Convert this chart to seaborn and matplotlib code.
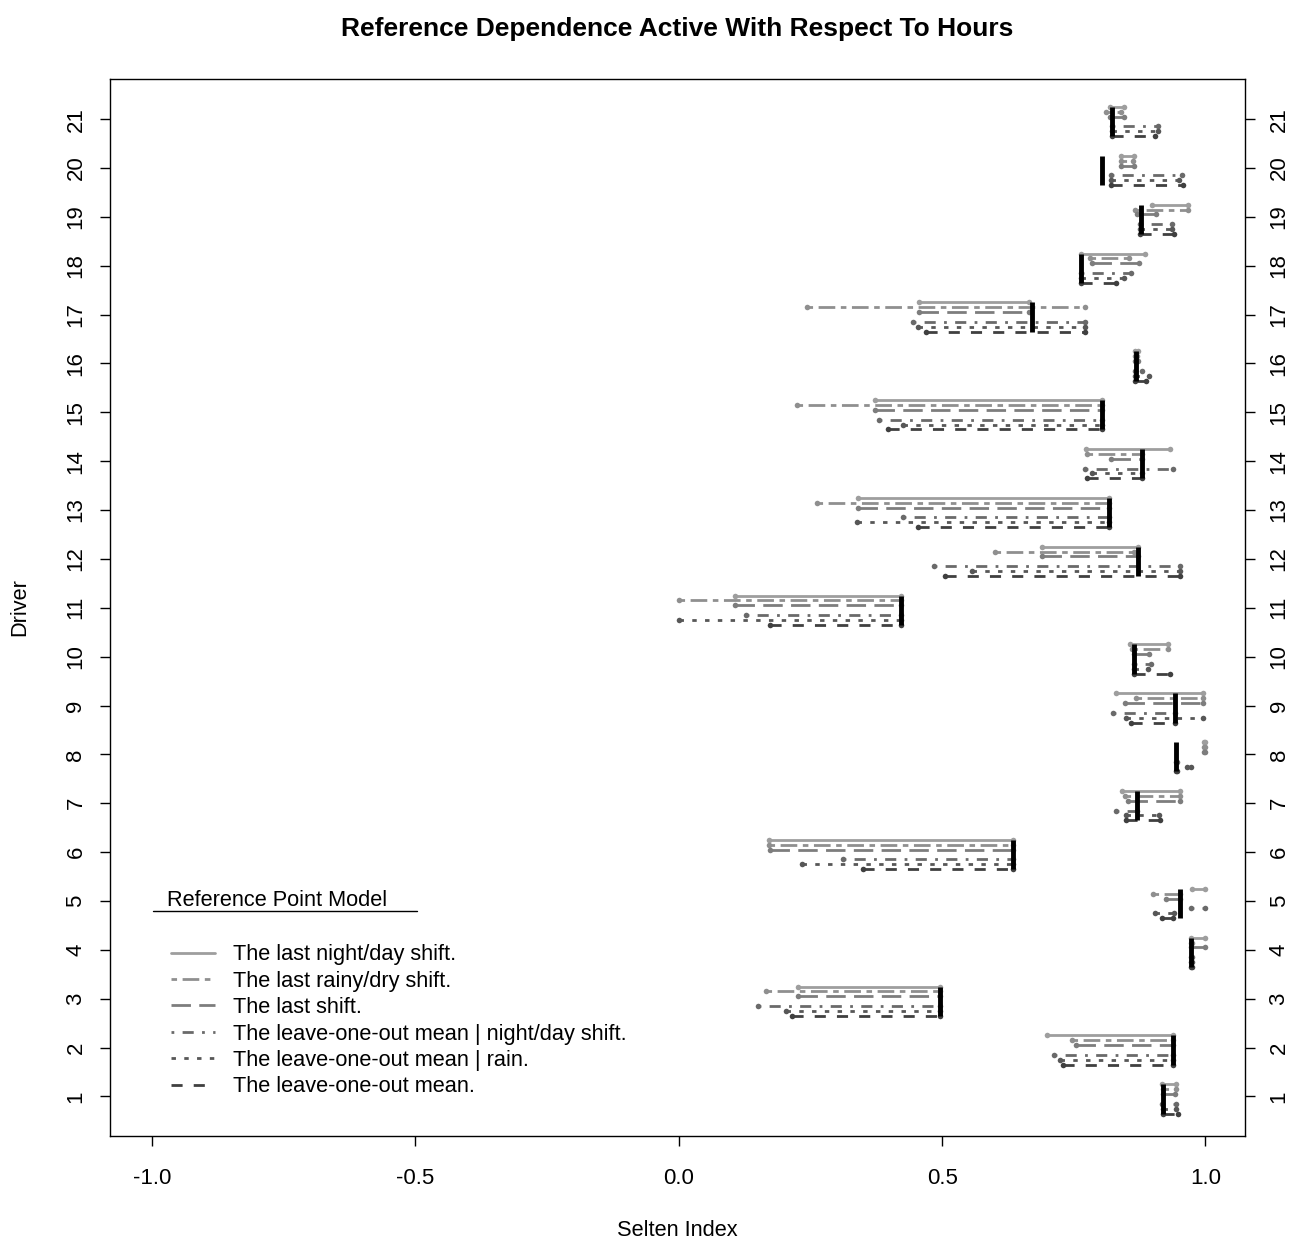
import numpy as np
import pandas as pd
import seaborn as sns
import matplotlib
matplotlib.use("Agg")
import matplotlib.pyplot as plt
from matplotlib.lines import Line2D

drivers = list(range(1, 22))

models = [
    "The last night/day shift.",
    "The last rainy/dry shift.",
    "The last shift.",
    "The leave-one-out mean | night/day shift.",
    "The leave-one-out mean | rain.",
    "The leave-one-out mean.",
]

# Selten index of each driver (thick black mark)
selten = [0.920, 0.938, 0.496, 0.972, 0.952, 0.634, 0.870, 0.944, 0.942, 0.864, 0.421,
          0.872, 0.817, 0.879, 0.803, 0.868, 0.670, 0.763, 0.877, 0.803, 0.823]

# interval ends per reference point model, drivers 1..21
night_lo = [0.917, 0.700, 0.227, 0.972, 0.974, 0.172, 0.841, 0.997, 0.831, 0.857, 0.106,
            0.689, 0.341, 0.774, 0.372, 0.866, 0.456, 0.763, 0.898, 0.840, 0.818]
night_hi = [0.945, 0.938, 0.496, 0.999, 0.999, 0.634, 0.952, 1.000, 0.996, 0.929, 0.421,
            0.872, 0.817, 0.933, 0.803, 0.872, 0.665, 0.885, 0.967, 0.865, 0.845]
rainy_lo = [0.920, 0.746, 0.165, 0.972, 0.901, 0.172, 0.847, 0.997, 0.868, 0.860, 0.000,
            0.600, 0.262, 0.776, 0.224, 0.866, 0.243, 0.781, 0.866, 0.840, 0.812]
rainy_hi = [0.945, 0.938, 0.496, 0.975, 0.952, 0.634, 0.952, 1.000, 0.996, 0.929, 0.421,
            0.864, 0.817, 0.879, 0.803, 0.870, 0.771, 0.855, 0.967, 0.862, 0.840]
last_lo = [0.920, 0.754, 0.227, 0.972, 0.926, 0.173, 0.853, 0.997, 0.847, 0.864, 0.106,
           0.689, 0.341, 0.820, 0.372, 0.866, 0.456, 0.785, 0.870, 0.840, 0.818]
last_hi = [0.943, 0.938, 0.496, 0.999, 0.952, 0.634, 0.952, 1.000, 0.996, 0.893, 0.421,
           0.872, 0.817, 0.879, 0.803, 0.872, 0.665, 0.874, 0.906, 0.865, 0.845]
loo_night_lo = [0.917, 0.713, 0.151, 0.972, 0.972, 0.312, 0.831, 0.944, 0.825, 0.864, 0.127,
                0.484, 0.426, 0.771, 0.380, 0.866, 0.445, 0.763, 0.876, 0.820, 0.823]
loo_night_hi = [0.945, 0.938, 0.496, 0.974, 0.999, 0.634, 0.870, 0.946, 0.942, 0.897, 0.421,
                0.952, 0.817, 0.938, 0.803, 0.880, 0.771, 0.858, 0.936, 0.955, 0.910]
loo_rain_lo = [0.920, 0.724, 0.204, 0.972, 0.904, 0.233, 0.850, 0.964, 0.850, 0.864, 0.000,
               0.556, 0.338, 0.784, 0.426, 0.866, 0.455, 0.763, 0.876, 0.820, 0.823]
loo_rain_hi = [0.945, 0.938, 0.496, 0.974, 0.940, 0.634, 0.912, 0.973, 0.996, 0.890, 0.421,
               0.952, 0.817, 0.879, 0.803, 0.893, 0.771, 0.845, 0.936, 0.950, 0.910]
loo_lo = [0.920, 0.729, 0.214, 0.972, 0.917, 0.350, 0.850, 0.944, 0.858, 0.864, 0.173,
          0.505, 0.455, 0.776, 0.398, 0.866, 0.470, 0.763, 0.876, 0.820, 0.823]
loo_hi = [0.947, 0.938, 0.496, 0.974, 0.938, 0.634, 0.913, 0.946, 0.942, 0.933, 0.421,
          0.952, 0.817, 0.879, 0.803, 0.888, 0.771, 0.830, 0.940, 0.958, 0.905]

lows = [night_lo, rainy_lo, last_lo, loo_night_lo, loo_rain_lo, loo_lo]
highs = [night_hi, rainy_hi, last_hi, loo_night_hi, loo_rain_hi, loo_hi]

# layout / style
offsets = [0.25, 0.15, 0.05, -0.15, -0.25, -0.35]
greys = ["#9e9e9e", "#8f8f8f", "#7d7d7d", "#6a6a6a", "#575757", "#404040"]
dash_styles = ["", (2, 2, 6, 2), (7, 3), (1, 3, 4, 3), (1.6, 3), (4, 4)]

rows = []
for m, name in enumerate(models):
    for i, d in enumerate(drivers):
        for v in (lows[m][i], highs[m][i]):
            rows.append({"x": v, "y": d + offsets[m], "model": name, "driver": d})
df = pd.DataFrame(rows)

sns.set_theme(style="ticks", rc={
    "axes.edgecolor": "black", "axes.linewidth": 1.0,
    "xtick.color": "black", "ytick.color": "black",
    "text.color": "black", "axes.labelcolor": "black",
    "xtick.major.size": 7, "ytick.major.size": 7,
    "xtick.major.width": 1.0, "ytick.major.width": 1.0,
})
plt.rcParams["font.family"] = ["Liberation Sans", "DejaVu Sans"]

fig = plt.figure(figsize=(12.99, 12.39), dpi=100)
ax = fig.add_axes([0.0847, 0.0831, 0.8737, 0.8531])

sns.lineplot(
    data=df, x="x", y="y", hue="model", style="model", units="driver",
    estimator=None, sort=True, hue_order=models, style_order=models,
    palette=greys, dashes=dict(zip(models, dash_styles)),
    markers=dict(zip(models, ["o"] * 6)), markersize=4, markeredgewidth=0,
    linewidth=2.0, legend=False, ax=ax,
)

ax.vlines(selten, np.array(drivers) + offsets[-1], np.array(drivers) + offsets[0],
          color="black", linewidth=3.5, zorder=5)

ax.set_xlim(-1.08, 1.075)
ax.set_ylim(0.19, 21.82)
ax.set_xticks([-1.0, -0.5, 0.0, 0.5, 1.0])
ax.set_xticklabels(["-1.0", "-0.5", "0.0", "0.5", "1.0"])
ax.set_yticks(drivers)
ax.set_yticklabels([str(d) for d in drivers])
ax.tick_params(axis="both", labelsize=16)
ax.tick_params(axis="x", pad=16)
ax.tick_params(axis="y", right=True, labelright=True, pad=10)
for t in ax.yaxis.get_major_ticks():
    t.label1.set_rotation(90)
    t.label1.set_va("center")
    t.label2.set_rotation(90)
    t.label2.set_va("center")

ax.set_xlabel("Selten Index", fontsize=15.7, labelpad=22)
ax.set_ylabel("Driver", fontsize=15.7, labelpad=25)
ax.set_title("Reference Dependence Active With Respect To Hours",
             fontsize=19, fontweight="bold", pad=31)

handles = [Line2D([0], [0], color=c, linewidth=2.0, linestyle="-" if ds == "" else (0, ds))
           for c, ds in zip(greys, dash_styles)]
leg = ax.legend(handles, models, loc="upper left", bbox_to_anchor=(0.054, 0.1815),
                frameon=False, fontsize=15.7, handlelength=2.0, handletextpad=0.82,
                labelspacing=0.25, borderpad=0, borderaxespad=0)

ax.text(0.0502, 0.2233, "Reference Point Model", transform=ax.transAxes,
        fontsize=15.7, ha="left", va="center")
ax.plot([0.038, 0.2705], [0.2129, 0.2129], transform=ax.transAxes,
        color="black", linewidth=1.0)

fig.savefig("out.png", dpi=100)
